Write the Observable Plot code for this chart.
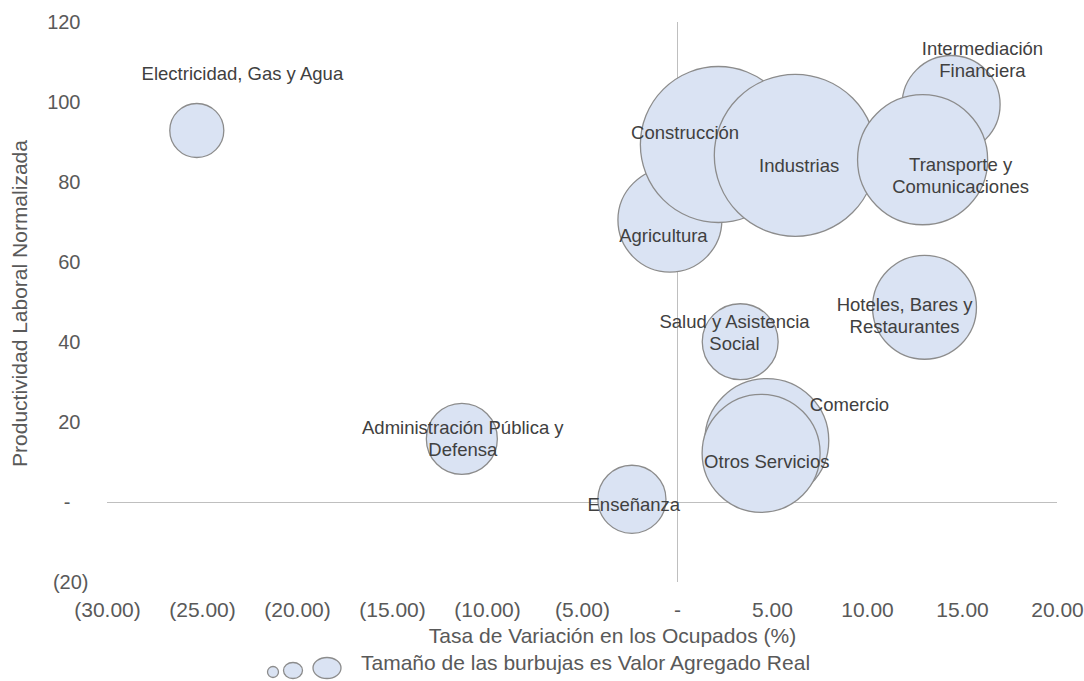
<!DOCTYPE html>
<html>
<head>
<meta charset="utf-8">
<script src="https://cdn.jsdelivr.net/npm/d3@7"></script>
<script src="https://cdn.jsdelivr.net/npm/@observablehq/plot@0.6"></script>
<style>
  html, body { margin: 0; padding: 0; background: #ffffff; }
  #chart { width: 1084px; height: 681px; position: relative; font-family: "Liberation Sans", Arial, sans-serif; }
  #chart svg { display: block; }
</style>
</head>
<body>
<div id="chart"></div>
<script>
// ---- data ----
const sectores = [
  "Electricidad, Gas y Agua",
  "Administración Pública y\nDefensa",
  "Enseñanza",
  "Agricultura",
  "Construcción",
  "Industrias",
  "Intermediación\nFinanciera",
  "Transporte y\nComunicaciones",
  "Hoteles, Bares y\nRestaurantes",
  "Salud y Asistencia\nSocial",
  "Comercio",
  "Otros Servicios"
];
const tasaOcupados   = [-25.3, -11.35, -2.4, -0.4, 2.15, 6.2, 14.4, 12.9, 13.0, 3.3, 4.7, 4.4];
const productividad  = [93, 15.9, 0.8, 70.6, 89.5, 86.8, 99.5, 85.7, 48.8, 40.2, 15.5, 12.3];
const valorAgregado  = [7.3, 12.6, 11.6, 27.0, 60.8, 65.6, 24.0, 42.3, 27.0, 14.4, 38.4, 34.8];
// label anchor positions (data units), as placed in the reference
const etiquetaX      = [-22.9, -11.3, -2.3, -0.74, 0.4, 6.4, 16.05, 14.9, 11.95, 3.0, 9.05, 4.7];
const etiquetaY      = [107.5, 16.25, -0.25, 67, 92.7, 84.5, 111, 82, 47, 42.6, 24.75, 10.5];

const xTicks = [-30, -25, -20, -15, -10, -5, 0, 5, 10, 15, 20];
const yTicksPos = [20, 40, 60, 80, 100, 120];
const yTickZero = [0];
const yTicksNeg = [-20];

const tituloX = "Tasa de Variación en los Ocupados (%)";
const tituloY = "Productividad Laboral Normalizada";
const leyenda = "Tamaño de las burbujas es Valor Agregado Real";

const rows = sectores.map((s, i) => ({
  sector: s, x: tasaOcupados[i], y: productividad[i], v: valorAgregado[i],
  lx: etiquetaX[i], ly: etiquetaY[i]
}));

const fmtX = d => d < 0 ? `(${Math.abs(d).toFixed(2)})` : d === 0 ? "-" : d.toFixed(2);
const fmtY = d => d < 0 ? `(${Math.abs(d)})` : d === 0 ? "-" : String(d);

const fill = "#dae3f3", stroke = "#8c8c8c";

const plot = Plot.plot({
  width: 1084,
  height: 651,
  marginLeft: 107,
  marginRight: 27,
  marginTop: 22,
  marginBottom: 69,
  x: {domain: [-30, 20]},
  y: {domain: [-20, 120]},
  r: {type: "sqrt", domain: [0, 65.6], range: [0, 81]},
  style: {fontFamily: "'Liberation Sans', Arial, sans-serif", color: "#595959", background: "#ffffff", overflow: "visible"},
  marks: [
    Plot.ruleX([0], {stroke: "#bfbfbf", strokeWidth: 1}),
    Plot.ruleY([0], {stroke: "#bfbfbf", strokeWidth: 1}),
    Plot.dot(rows, {x: "x", y: "y", r: "v", fill, fillOpacity: 1, stroke, strokeWidth: 1.3, sort: null}),
    Plot.text(rows, {x: "lx", y: "ly", text: "sector", fontSize: 18.5, fill: "#404040", lineHeight: 1.2}),
    Plot.axisX({ticks: xTicks, tickFormat: fmtX, tickSize: 0, tickPadding: 20, fontSize: 21, label: null}),
    Plot.axisY({ticks: yTicksPos, tickFormat: fmtY, tickSize: 0, tickPadding: 27, fontSize: 20, label: null}),
    Plot.axisY({ticks: yTickZero, tickFormat: fmtY, tickSize: 0, tickPadding: 37, fontSize: 20, label: null}),
    Plot.axisY({ticks: yTicksNeg, tickFormat: fmtY, tickSize: 0, tickPadding: 19, fontSize: 20, label: null}),
    Plot.text([tituloX], {frameAnchor: "bottom", dy: 60, dx: 30, fontSize: 21, fill: "#595959"}),
    Plot.text([tituloY], {frameAnchor: "left", dx: -87, dy: 1, rotate: -90, textAnchor: "middle", fontSize: 21, fill: "#595959"})
  ]
});
document.getElementById("chart").appendChild(plot);

// ---- legend below the plot ----
const leg = d3.select("#chart").append("svg")
  .attr("width", 1084).attr("height", 30)
  .style("font-family", "'Liberation Sans', Arial, sans-serif");
const top0 = 651;
const legBubbles = [
  {cx: 273, cy: 672, rx: 5.5, ry: 5.5},
  {cx: 293, cy: 670.5, rx: 9.5, ry: 8},
  {cx: 327, cy: 668, rx: 14, ry: 10.5}
];
leg.selectAll("ellipse").data(legBubbles).join("ellipse")
  .attr("cx", d => d.cx).attr("cy", d => d.cy - top0)
  .attr("rx", d => d.rx).attr("ry", d => d.ry)
  .attr("fill", fill).attr("stroke", stroke).attr("stroke-width", 1.3);
leg.append("text")
  .attr("x", 361).attr("y", 670 - top0)
  .attr("font-size", 21).attr("fill", "#595959")
  .text(leyenda);
</script>
</body>
</html>
